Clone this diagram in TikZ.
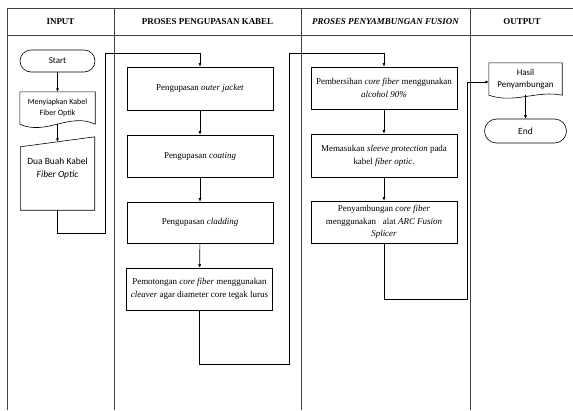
\documentclass[tikz,border=0pt]{standalone}
\usepackage{fontspec}
\setmainfont{Liberation Serif}
\newfontfamily\calib{Carlito}
\usetikzlibrary{arrows.meta,shapes.misc,calc}
\tikzset{
  grid/.style={draw=black!75, line width=0.8bp},
  hdr/.style={font=\fontsize{9}{11}\selectfont\bfseries, inner sep=0pt},
  proc/.style={draw, line width=0.6bp, minimum width=146bp, align=center, inner sep=2bp,
    font=\fontsize{9}{13}\selectfont},
  term/.style={draw, line width=0.6bp, rounded rectangle, inner sep=0pt, font=\calib\fontsize{9}{10}\selectfont},
  ghost/.style={draw=none, inner sep=0pt, align=center},
  shp/.style={draw, line width=0.6bp},
  arr/.style={draw, line width=0.6bp, -{Latex[length=3.5bp,width=3bp]}},
  lin/.style={draw, line width=0.6bp}
}
\begin{document}
\begin{tikzpicture}[x=1bp,y=-1bp]
\useasboundingbox (0,0) rectangle (573,410);
% table
\draw[grid] (7,8) -- (573,8);
\draw[grid] (7,35) -- (573,35);
\draw[grid] (7,8) -- (7,410);
\draw[grid] (114,8) -- (114,410);
\draw[grid] (301,8) -- (301,410);
\draw[grid] (470,8) -- (470,410);
\node[hdr] (h-in) at (60.5,21.5) {INPUT};
\node[hdr] (h-kab) at (207.5,21.5) {PROSES PENGUPASAN KABEL};
\node[hdr, font=\fontsize{9}{11}\selectfont\bfseries\itshape] (h-fus) at (385.5,21.5) {PROSES PENYAMBUNGAN FUSION};
\node[hdr] (h-out) at (522,21.5) {OUTPUT};

% INPUT column
\node[term, minimum width=75bp, minimum height=22bp] (start) at (57.5,61) {Start};
\node[ghost, minimum width=75bp, minimum height=32bp, font=\calib\fontsize{8}{11}\selectfont] (d1) at (57.5,108) {Menyiapkan Kabel\\Fiber Optik};
\draw[shp] (d1.south west) -- (d1.north west) -- (d1.north east) -- (d1.south east)
  .. controls (70,112) and (46,136) .. (d1.south west);
\node[ghost, minimum width=74bp, minimum height=73bp] (m1) at (57.5,173.5) {};
\draw[shp] (m1.south west) -- ($(m1.north west)+(0,10)$) -- (m1.north east) -- (m1.south east) -- cycle;
\node[ghost, font=\calib\fontsize{9.5}{13.5}\selectfont] (m1t) at (57.5,168.5) {Dua Buah Kabel\\\textit{Fiber Optic}};
\draw[arr] (start) -- (d1);
\draw[arr] (d1.south) -- ($(m1.north)+(0,5)$);

% PROSES PENGUPASAN KABEL
\node[proc, minimum height=43bp] (p1) at (200,88.5) {Pengupasan \textit{outer jacket}};
\node[proc, minimum height=42bp] (p2) at (200,156) {Pengupasan \textit{coating}};
\node[proc, minimum height=41bp] (p3) at (200,222.5) {Pengupasan \textit{cladding}};
\node[proc, minimum height=42bp] (p4) at (199.5,289) {Pemotongan \textit{core fiber} menggunakan\\\textit{cleaver} agar diameter core tegak lurus};
\draw[arr] (p1) -- (p2);
\draw[arr] (p2) -- (p3);
\draw[arr] (p3) -- (p4);

\coordinate (j1) at (105,233);
\coordinate (j2) at (105,53);
\draw[arr] (m1.south) |- (j1) -- (j2) -| (p1.north);

% PROSES PENYAMBUNGAN FUSION
\node[proc, minimum height=42bp] (f1) at (384,88) {Pembersihan \textit{core fiber} menggunakan\\\textit{alcohol 90\%}};
\node[proc, minimum height=43bp] (f2) at (384,155.5) {Memasukan \textit{sleeve protection} pada\\kabel \textit{fiber optic}.};
\node[proc, minimum height=42bp, font=\fontsize{9}{12.5}\selectfont] (f3) at (384,222) {Penyambungan \textit{core fiber}\\menggunakan\ \ \ alat \textit{ARC Fusion}\\\textit{Splicer}};
\draw[arr] (f1) -- (f2);
\draw[arr] (f2) -- (f3);

\coordinate (j3) at (289,364);
\coordinate (j4) at (289,53);
\draw[arr] (p4.south) |- (j3) -- (j4) -| (f1.north);

% OUTPUT
\node[ghost, minimum width=73bp, minimum height=32bp, font=\calib\fontsize{9}{12}\selectfont] (h1) at (525.5,79) {Hasil\\Penyambungan};
\draw[shp] (h1.south west) -- (h1.north west) -- (h1.north east) -- (h1.south east)
  .. controls (537,90) and (514,104) .. (h1.south west);
\node[term, minimum width=82bp, minimum height=24bp, font=\calib\fontsize{9.5}{10}\selectfont] (end) at (525.5,131) {End};
\draw[arr] (h1.south) -- (end.north);

\coordinate (j5) at (467,299);
\coordinate (j6) at (467,82);
\draw[arr] (f3.south) |- (j5) -- (j6) -- (j6 -| h1.west);
\end{tikzpicture}
\end{document}
